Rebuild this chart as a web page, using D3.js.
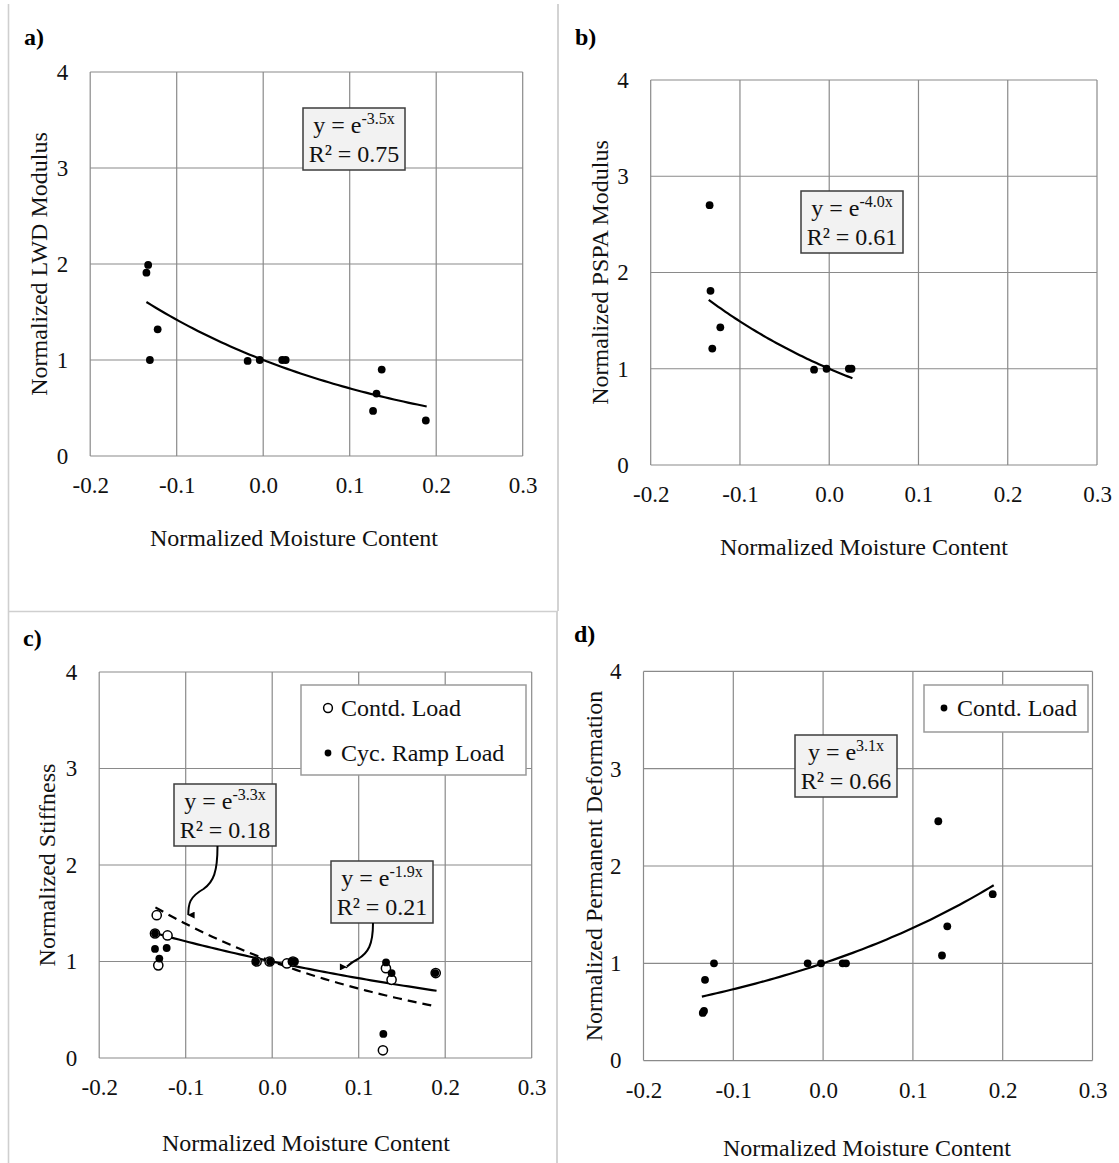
<!DOCTYPE html>
<html>
<head>
<meta charset="utf-8">
<script src="https://cdn.jsdelivr.net/npm/d3@7"></script>
<style>
  html, body { margin: 0; padding: 0; background: #fff; }
  svg { display: block; }
</style>
</head>
<body>
<svg id="chart" width="1119" height="1163"></svg>
<script>
// ---------------- DATA ----------------
const xTickValues = [-0.2, -0.1, 0.0, 0.1, 0.2, 0.3];
const xTickLabels = ["-0.2", "-0.1", "0.0", "0.1", "0.2", "0.3"];
const yTickValues = [0, 1, 2, 3, 4];
const yTickLabels = ["0", "1", "2", "3", "4"];

// a) LWD modulus
const lwdX = [-0.133, -0.135, -0.122, -0.131, -0.018, -0.004, 0.022, 0.026, 0.137, 0.131, 0.127, 0.188];
const lwdY = [1.99, 1.91, 1.32, 1.00, 0.99, 1.00, 1.00, 1.00, 0.90, 0.65, 0.47, 0.37];

// b) PSPA modulus
const pspaX = [-0.134, -0.133, -0.122, -0.131, -0.017, -0.003, 0.022, 0.025];
const pspaY = [2.70, 1.81, 1.43, 1.21, 0.99, 1.00, 1.00, 1.00];

// c) Stiffness
const stiffContdX = [-0.1335, -0.1355, -0.121, -0.1317, -0.018, -0.003, 0.017, 0.024, 0.1315, 0.138, 0.128, 0.189];
const stiffContdY = [1.48, 1.29, 1.27, 0.96, 1.00, 1.00, 0.98, 1.00, 0.93, 0.81, 0.08, 0.88];
const stiffCycX = [-0.1355, -0.1355, -0.122, -0.1305, -0.0187, -0.0025, 0.0225, 0.0263, 0.1316, 0.138, 0.1885, 0.1285];
const stiffCycY = [1.29, 1.13, 1.14, 1.03, 1.00, 1.00, 1.00, 1.00, 0.99, 0.88, 0.88, 0.25];

// d) Permanent deformation
const pdX = [-0.134, -0.1326, -0.1315, -0.1215, -0.0172, -0.0023, 0.0218, 0.0255, 0.1283, 0.1889, 0.1383, 0.1324];
const pdY = [0.49, 0.51, 0.83, 1.00, 1.00, 1.00, 1.00, 1.00, 2.46, 1.71, 1.38, 1.08];

// fitted exponential trends y = e^(k x)
const fitCoef = [-3.5, -4.0, -3.3, -1.9, 3.1];
const fitCoefLabels = ["-3.5x", "-4.0x", "-3.3x", "-1.9x", "3.1x"];
const fitR2 = ["0.75", "0.61", "0.18", "0.21", "0.66"];
const fitFrom = [-0.135, -0.135, -0.135, -0.135, -0.135];
const fitTo = [0.189, 0.026, 0.19, 0.19, 0.19];

const panelLetters = ["a)", "b)", "c)", "d)"];
const yTitles = ["Normalized LWD Modulus", "Normalized PSPA Modulus", "Normalized Stiffness", "Normalized Permanent Deformation"];
const xTitle = "Normalized Moisture Content";
const legendC = ["Contd. Load", "Cyc. Ramp Load"];
const legendD = ["Contd. Load"];

// ---------------- STYLE ----------------
const FONT = "'Liberation Serif', 'Times New Roman', serif";
const TXT = "#111";
const GRID = "#8a8a8a";
const FRAME = "#cfcfcf";

const svg = d3.select("#chart");

// outer frames (light gray)
svg.append("line").attr("x1", 8.5).attr("x2", 8.5).attr("y1", 4).attr("y2", 1163).attr("stroke", FRAME).attr("stroke-width", 1.6);
svg.append("line").attr("x1", 558).attr("x2", 558).attr("y1", 4).attr("y2", 611).attr("stroke", FRAME).attr("stroke-width", 1.8);
svg.append("line").attr("x1", 557).attr("x2", 557).attr("y1", 611).attr("y2", 1163).attr("stroke", FRAME).attr("stroke-width", 1.8);
svg.append("line").attr("x1", 8.5).attr("x2", 558).attr("y1", 611.5).attr("y2", 611.5).attr("stroke", FRAME).attr("stroke-width", 1.6);

function makePanel(cfg) {
  const g = svg.append("g");
  const x = d3.scaleLinear().domain([-0.2, 0.3]).range([cfg.left, cfg.right]);
  const y = d3.scaleLinear().domain([0, 4]).range([cfg.bottom, cfg.top]);

  // grid
  g.selectAll(".vg").data(xTickValues).join("line")
    .attr("x1", d => x(d)).attr("x2", d => x(d))
    .attr("y1", cfg.top).attr("y2", cfg.bottom)
    .attr("stroke", GRID).attr("stroke-width", 1.2);
  g.selectAll(".hg").data(yTickValues).join("line")
    .attr("x1", cfg.left).attr("x2", cfg.right)
    .attr("y1", d => y(d)).attr("y2", d => y(d))
    .attr("stroke", GRID).attr("stroke-width", 1.2);

  // axes
  g.append("g").attr("transform", `translate(0,${cfg.bottom})`)
    .call(d3.axisBottom(x).tickValues(xTickValues).tickFormat((d, i) => xTickLabels[i]).tickSize(0).tickPadding(21))
    .call(a => a.select(".domain").remove())
    .attr("font-family", FONT).attr("font-size", 23).attr("color", TXT);
  g.append("g").attr("transform", `translate(${cfg.left},0)`)
    .call(d3.axisLeft(y).tickValues(yTickValues).tickFormat((d, i) => yTickLabels[i]).tickSize(0).tickPadding(22))
    .call(a => a.select(".domain").remove())
    .attr("font-family", FONT).attr("font-size", 23).attr("color", TXT);

  // titles
  g.append("text").attr("x", cfg.xtX).attr("y", cfg.xtY).attr("text-anchor", "middle")
    .attr("font-family", FONT).attr("font-size", 24).attr("fill", TXT).text(xTitle);
  g.append("text").attr("transform", `translate(${cfg.ytX},${(cfg.top + cfg.bottom) / 2}) rotate(-90)`)
    .attr("text-anchor", "middle").attr("font-family", FONT).attr("font-size", 24).attr("fill", TXT).text(cfg.yTitle);
  g.append("text").attr("x", cfg.lx).attr("y", cfg.ly).attr("font-family", FONT).attr("font-weight", "bold")
    .attr("font-size", 24).attr("fill", "#000").text(cfg.letter);

  return { g, x, y };
}

function trend(p, k, x0, x1, dashed) {
  const n = 60;
  const xs = d3.range(n + 1).map(i => x0 + (x1 - x0) * i / n);
  const line = d3.line().x(d => p.x(d)).y(d => p.y(Math.exp(k * d))).curve(d3.curveLinear);
  p.g.append("path").datum(xs).attr("d", line).attr("fill", "none")
    .attr("stroke", "#000").attr("stroke-width", 2.2)
    .attr("stroke-dasharray", dashed ? "9,6" : null);
}

function dots(p, xs, ys, open) {
  p.g.selectAll(null).data(xs.map((v, i) => [v, ys[i]])).join("circle")
    .attr("cx", d => p.x(d[0])).attr("cy", d => p.y(d[1]))
    .attr("r", open ? 4.6 : 3.9)
    .attr("fill", open ? "#fff" : "#000")
    .attr("stroke", open ? "#000" : "none")
    .attr("stroke-width", open ? 1.5 : 0);
}

function eqBox(p, bx, by, idx) {
  const w = 102, h = 62;
  p.g.append("rect").attr("x", bx).attr("y", by).attr("width", w).attr("height", h)
    .attr("fill", "#f2f2f2").attr("stroke", "#3c3c3c").attr("stroke-width", 1.5);
  const t1 = p.g.append("text").attr("x", bx + w / 2).attr("y", by + 25).attr("text-anchor", "middle")
    .attr("font-family", FONT).attr("font-size", 24).attr("fill", TXT);
  t1.append("tspan").text("y = e");
  t1.append("tspan").attr("font-size", 16).attr("dy", -9).text(fitCoefLabels[idx]);
  p.g.append("text").attr("x", bx + w / 2).attr("y", by + 54).attr("text-anchor", "middle")
    .attr("font-family", FONT).attr("font-size", 24).attr("fill", TXT).text("R² = " + fitR2[idx]);
}

// ---------- a) ----------
const pa = makePanel({ left: 90.2, right: 522.7, top: 72, bottom: 456, xtX: 294, xtY: 546, ytX: 47, yTitle: yTitles[0], letter: panelLetters[0], lx: 24, ly: 45 });
trend(pa, fitCoef[0], fitFrom[0], fitTo[0], false);
dots(pa, lwdX, lwdY, false);
eqBox(pa, 303, 108, 0);

// ---------- b) ----------
const pb = makePanel({ left: 650.7, right: 1097, top: 80, bottom: 465, xtX: 864, xtY: 555, ytX: 608, yTitle: yTitles[1], letter: panelLetters[1], lx: 575, ly: 45 });
trend(pb, fitCoef[1], fitFrom[1], fitTo[1], false);
dots(pb, pspaX, pspaY, false);
eqBox(pb, 801, 191, 1);

// ---------- c) ----------
const pc = makePanel({ left: 99.2, right: 531.7, top: 672, bottom: 1058, xtX: 306, xtY: 1151, ytX: 55, yTitle: yTitles[2], letter: panelLetters[2], lx: 23, ly: 646 });
trend(pc, fitCoef[2], fitFrom[2], fitTo[2], true);
trend(pc, fitCoef[3], fitFrom[3], fitTo[3], false);
dots(pc, stiffContdX, stiffContdY, true);
dots(pc, stiffCycX, stiffCycY, false);
eqBox(pc, 174, 784, 2);
eqBox(pc, 331, 861, 3);

// arrows (tips on the trend lines)
const defs = svg.append("defs");
defs.append("marker").attr("id", "ah").attr("viewBox", "0 0 10 10").attr("refX", 5).attr("refY", 9)
  .attr("markerWidth", 7).attr("markerHeight", 9).attr("markerUnits", "userSpaceOnUse").attr("orient", "auto")
  .append("path").attr("d", "M0,0 L10,0 L5,10 Z").attr("fill", "#000");
{
  const tx = pc.x(-0.097), ty = pc.y(Math.exp(fitCoef[2] * -0.097)) - 4;
  const sx = 217.5, sy = 846;
  pc.g.append("path")
    .attr("d", `M${sx},${sy} C${sx},${sy + 26} ${sx - 4},${sy + 36} ${sx - 14},${sy + 43} C${tx + 1},${sy + 51} ${tx},${sy + 58} ${tx},${ty - 6}`)
    .attr("fill", "none").attr("stroke", "#000").attr("stroke-width", 2).attr("marker-end", "url(#ah)");
}
{
  const tx = pc.x(0.0855), ty = pc.y(Math.exp(fitCoef[3] * 0.0855)) - 3;
  const sx = 373, sy = 923;
  pc.g.append("path")
    .attr("d", `M${sx},${sy} C${sx},${sy + 22} ${sx - 5},${sy + 30} ${sx - 15},${sy + 36} C${tx + 2},${sy + 41} ${tx},${sy + 45} ${tx},${ty - 6}`)
    .attr("fill", "none").attr("stroke", "#000").attr("stroke-width", 2).attr("marker-end", "url(#ah)");
}

// legend c
{
  const lg = pc.g.append("g");
  lg.append("rect").attr("x", 301).attr("y", 685).attr("width", 225).attr("height", 90)
    .attr("fill", "#fff").attr("stroke", "#9a9a9a").attr("stroke-width", 1.5);
  lg.append("circle").attr("cx", 328).attr("cy", 708).attr("r", 4.4).attr("fill", "#fff").attr("stroke", "#000").attr("stroke-width", 1.5);
  lg.append("circle").attr("cx", 328).attr("cy", 753).attr("r", 3.4).attr("fill", "#000");
  lg.append("text").attr("x", 341).attr("y", 716).attr("font-family", FONT).attr("font-size", 24).attr("fill", TXT).text(legendC[0]);
  lg.append("text").attr("x", 341).attr("y", 761).attr("font-family", FONT).attr("font-size", 24).attr("fill", TXT).text(legendC[1]);
}

// ---------- d) ----------
const pd = makePanel({ left: 643.5, right: 1092.5, top: 671.4, bottom: 1060.6, xtX: 867, xtY: 1156, ytX: 602, yTitle: yTitles[3], letter: panelLetters[3], lx: 574, ly: 642 });
trend(pd, fitCoef[4], fitFrom[4], fitTo[4], false);
dots(pd, pdX, pdY, false);
eqBox(pd, 795, 735, 4);
{
  const lg = pd.g.append("g");
  lg.append("rect").attr("x", 924).attr("y", 685).attr("width", 164).attr("height", 47)
    .attr("fill", "#fff").attr("stroke", "#9a9a9a").attr("stroke-width", 1.5);
  lg.append("circle").attr("cx", 944).attr("cy", 708).attr("r", 3.4).attr("fill", "#000");
  lg.append("text").attr("x", 957).attr("y", 716).attr("font-family", FONT).attr("font-size", 24).attr("fill", TXT).text(legendD[0]);
}
</script>
</body>
</html>
